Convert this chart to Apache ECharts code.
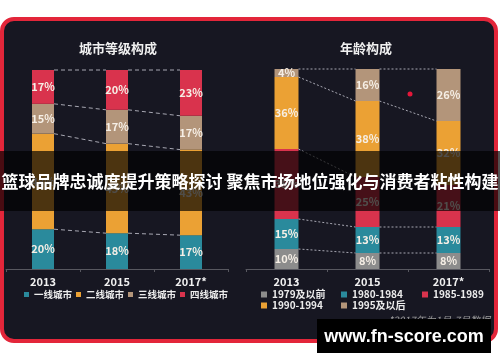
<!DOCTYPE html>
<html><head><meta charset="utf-8">
<script src="https://cdn.jsdelivr.net/npm/echarts@6/dist/echarts.min.js"></script>
<style>html,body{margin:0;padding:0;background:#fff}#c{width:500px;height:362px}</style>
</head><body><div id="c"></div>
<script>
// ---- data ----
const years = ['2013', '2015', '2017*'];
const cityNames = ['一线城市', '二线城市', '三线城市', '四线城市'];
const city1 = [20, 18, 17];
const city2 = [48, 45, 43];
const city3 = [15, 17, 17];
const city4 = [17, 20, 23];
const ageNames = ['1979及以前', '1980-1984', '1985-1989', '1990-1994', '1995及以后'];
const age79 = [10, 8, 8];
const age80 = [15, 13, 13];
const age85 = [35, 25, 21];
const age90 = [36, 38, 32];
const age95 = [4, 16, 26];
const leftTitle = '城市等级构成';
const rightTitle = '年龄构成';
const bannerText = '篮球品牌忠诚度提升策略探讨 聚焦市场地位强化与消费者粘性构建';
const footnote = '*2017年为1月-7月数据';
const watermark = 'www.fn-score.com';

// ---- colors ----
const C = {teal:'#2a8a9c', orange:'#eba134', beige:'#b3957a', red:'#d9334d', gray:'#8c8c8c'};
const FONT = '"Noto Sans CJK SC", "Noto Sans", sans-serif';

function connectorData(stacks){
  const cum = [];
  let run = [0,0,0];
  stacks.forEach(s => { run = run.map((v,i)=>v+s[i]); cum.push(run.slice()); });
  const out = [];
  cum.forEach(c => { for (let i=0;i<2;i++) out.push([i, c[i], c[i+1]]); });
  return out;
}
function connector(bw, dash){
  return function(params, api){
    const i = api.value(0);
    const p1 = api.coord([i, api.value(1)]);
    const p2 = api.coord([i+1, api.value(2)]);
    return {type:'line', shape:{x1:p1[0]+bw/2, y1:p1[1], x2:p2[0]-bw/2, y2:p2[1]},
      style:{stroke:'rgba(215,215,225,0.75)', lineWidth:1, lineDash:dash}};
  };
}
const labelCfg = {show:true, position:'inside', formatter: p => p.value + '%',
  color:'#f6efe6', fontSize:11, fontWeight:'bold', fontFamily:FONT};

function bars(names, arrs, colors, axis, bw){
  return arrs.map((a,k)=>({
    name:names[k], type:'bar', stack:'s'+axis, xAxisIndex:axis, yAxisIndex:axis,
    barWidth:bw, data:a, itemStyle:{color:colors[k]}, label:labelCfg
  }));
}

const leftStacks = [city1, city2, city3, city4];
const rightStacks = [age79, age80, age85, age90, age95];

const xAxisCommon = {type:'category', data:years,
  axisLine:{lineStyle:{color:'#585860'}},
  axisTick:{show:true, length:3, lineStyle:{color:'#585860'}},
  axisLabel:{color:'#f0f0f0', fontSize:11, fontWeight:'bold', margin:7, fontFamily:FONT}};

const legendText = {color:'#ececec', fontSize:10, fontWeight:'bold', fontFamily:FONT, lineHeight:11};
const legBase = {icon:'rect', itemWidth:6, itemHeight:6, padding:0, textStyle:legendText};

const option = {
  animation:false,
  backgroundColor:'#ffffff',
  textStyle:{fontFamily:FONT},
  grid:[
    {left:6, width:222, top:70, height:199},
    {left:246, width:243, top:69, height:200}
  ],
  xAxis:[Object.assign({gridIndex:0}, xAxisCommon), Object.assign({gridIndex:1}, xAxisCommon)],
  yAxis:[
    {gridIndex:0, type:'value', min:0, max:100, show:false},
    {gridIndex:1, type:'value', min:0, max:100, show:false}
  ],
  legend:[
    {data:cityNames, left:24, top:289, itemGap:4, icon:'rect', itemWidth:5, itemHeight:5, padding:0,
     textStyle:{color:'#ececec', fontSize:9.5, fontWeight:'bold', fontFamily:FONT, lineHeight:11}},
    Object.assign({data:[ageNames[0], ageNames[3]], orient:'vertical', left:261, top:289, itemGap:0}, legBase),
    Object.assign({data:[ageNames[1], ageNames[4]], orient:'vertical', left:341, top:289, itemGap:0}, legBase),
    Object.assign({data:[ageNames[2]], orient:'vertical', left:422, top:289, itemGap:0}, legBase)
  ],
  series:[].concat(
    bars(cityNames, leftStacks, [C.teal, C.orange, C.beige, C.red], 0, 22),
    bars(ageNames, rightStacks, [C.gray, C.teal, C.red, C.orange, C.beige], 1, 24),
    [
      {type:'custom', xAxisIndex:0, yAxisIndex:0, renderItem:connector(22,[4,3]),
       data:connectorData(leftStacks), encode:{x:0, y:1}, z:3, silent:true},
      {type:'custom', xAxisIndex:1, yAxisIndex:1, renderItem:connector(24,[2,2]),
       data:connectorData(rightStacks), encode:{x:0, y:1}, z:3, silent:true}
    ]
  ),
  graphic:[
    {type:'rect', z:-10, shape:{x:2, y:19, width:494, height:322, r:12},
     style:{fill:'#171722', stroke:'#e3263a', lineWidth:4}},
    {type:'text', z:10, x:118, y:48, style:{text:leftTitle, fill:'#f0f0f0', font:'bold 13px '+FONT, textAlign:'center', textVerticalAlign:'middle'}},
    {type:'text', z:10, x:366, y:48, style:{text:rightTitle, fill:'#f0f0f0', font:'bold 13px '+FONT, textAlign:'center', textVerticalAlign:'middle'}},
    {type:'circle', z:10, shape:{cx:410, cy:94, r:2.5}, style:{fill:'#e5173a'}},
    {type:'text', z:10, x:490, y:320, style:{text:footnote, fill:'#9a9a9a', font:'italic 10px '+FONT, textAlign:'right', textVerticalAlign:'middle'}},
    {type:'rect', z:100, shape:{x:0, y:151, width:500, height:60}, style:{fill:'rgba(0,0,0,0.68)'}},
    {type:'text', z:101, x:250, y:182, style:{text:bannerText, fill:'#ffffff', font:'bold 17px '+FONT, textAlign:'center', textVerticalAlign:'middle'}},
    {type:'rect', z:100, shape:{x:317, y:319, width:174, height:34}, style:{fill:'#000000'}},
    {type:'text', z:101, x:404, y:337, style:{text:watermark, fill:'#ffffff', font:'bold 18px "Liberation Sans", Arial, sans-serif', textAlign:'center', textVerticalAlign:'middle'}}
  ]
};
const chart = echarts.init(document.getElementById('c'), null, {renderer:'canvas'});
chart.setOption(option);
</script>
</body></html>
